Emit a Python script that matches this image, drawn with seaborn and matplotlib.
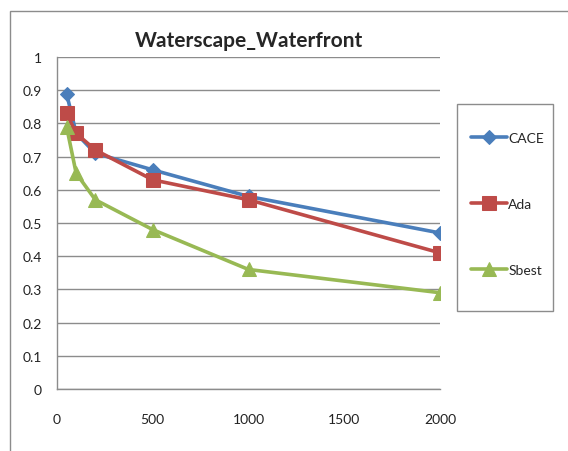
import matplotlib
matplotlib.use("Agg")
import matplotlib.pyplot as plt
import seaborn as sns
import pandas as pd
from matplotlib.patches import Rectangle

x_vals = [50, 100, 200, 500, 1000, 2000]
cace = [0.89, 0.77, 0.71, 0.66, 0.58, 0.47]
ada = [0.83, 0.77, 0.72, 0.63, 0.57, 0.41]
sbest = [0.79, 0.65, 0.57, 0.48, 0.36, 0.29]
series_names = ["CACE", "Ada", "Sbest"]
colors = ["#4A7EBB", "#BE4B48", "#98B954"]
markers = ["D", "s", "^"]
msizes = [7.5, 10.5, 9.5]
title = "Waterscape_Waterfront"

sns.set_style("white")
plt.rcParams["font.family"] = ["Lato", "DejaVu Sans"]

df = pd.concat([
    pd.DataFrame({"x": x_vals, "y": vals, "series": name})
    for name, vals in zip(series_names, [cace, ada, sbest])
])

W, H = 568, 452
fig = plt.figure(figsize=(W / 100, H / 100), dpi=100)
fig.patches.append(Rectangle((10/W, -0.1), 1.2, 1 - 12/H + 0.1, transform=fig.transFigure,
                             fill=False, edgecolor="#8c8c8c", linewidth=1.0))
# legend frame
fig.patches.append(Rectangle((457/W, 1 - 312/H), 96/W, 207/H, transform=fig.transFigure,
                             fill=False, edgecolor="#8c8c8c", linewidth=1.0))
ax = fig.add_axes([57/W, 1 - 390/H, (440 - 57)/W, (390 - 58)/H])

for name, c, m, ms in zip(series_names, colors, markers, msizes):
    sub = df[df["series"] == name]
    sns.lineplot(data=sub, x="x", y="y", ax=ax, color=c, linewidth=2.6,
                 marker=m, markersize=ms, markeredgecolor=c, label=name)

ax.set_xlim(0, 2000)
ax.set_ylim(0, 1)
ax.set_xticks([0, 500, 1000, 1500, 2000])
ax.set_yticks([i / 10 for i in range(11)])
ax.set_yticklabels(["0", "0.1", "0.2", "0.3", "0.4", "0.5", "0.6", "0.7", "0.8", "0.9", "1"])
ax.set_xlabel("")
ax.set_ylabel("")
ax.yaxis.grid(True, color="#8c8c8c", linewidth=1.0)
ax.set_axisbelow(True)
for s in ["top", "right"]:
    ax.spines[s].set_visible(False)
for s in ["left", "bottom"]:
    ax.spines[s].set_color("#8c8c8c")
    ax.spines[s].set_linewidth(1.0)
ax.tick_params(axis="both", which="both", direction="out", length=5, width=1,
               color="#8c8c8c", labelsize=10, labelcolor="#222222")
ax.tick_params(axis="x", pad=12)
ax.tick_params(axis="y", pad=6)
ax.set_title(title, fontsize=15, fontweight="bold", pad=8)

handles, labels = ax.get_legend_handles_labels()
leg = ax.legend(handles, labels, loc="upper left", bbox_to_anchor=(443/W, 1 - 105/H),
                bbox_transform=fig.transFigure, frameon=False,
                fontsize=10, labelspacing=3.9, handlelength=2.6,
                handletextpad=0.1, borderpad=2.0, borderaxespad=0)

fig.savefig("out.png", dpi=100)
